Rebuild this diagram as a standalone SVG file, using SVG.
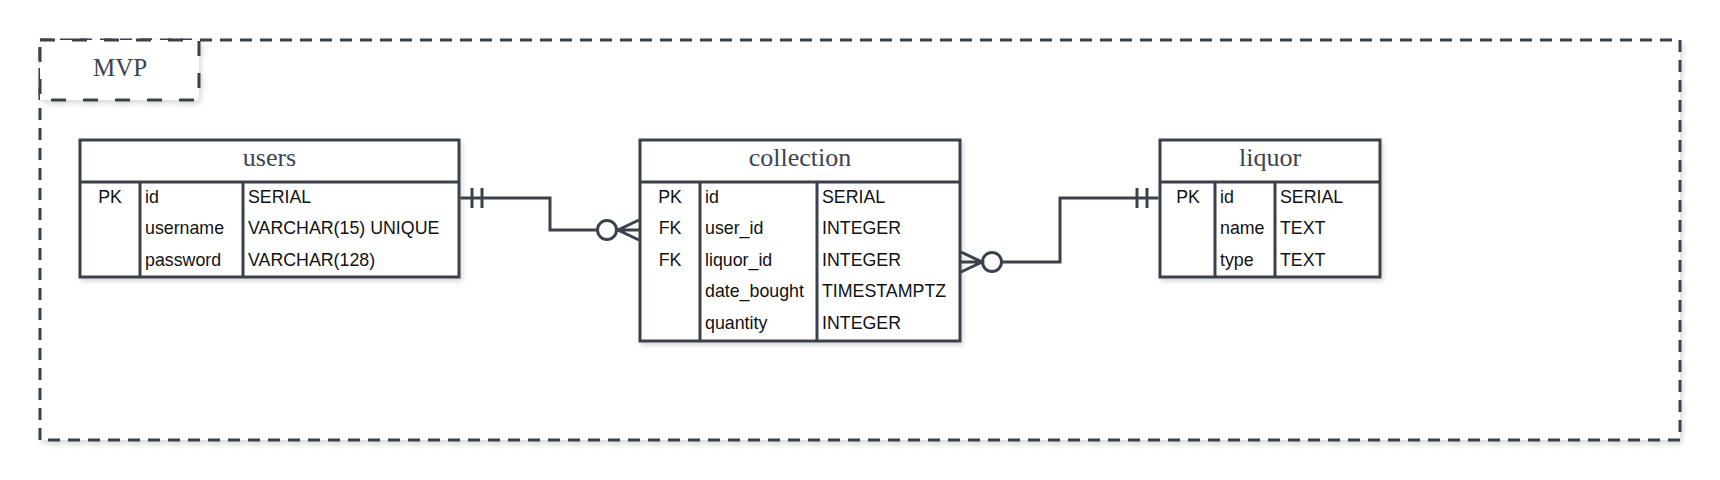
<svg xmlns="http://www.w3.org/2000/svg" width="1720" height="480" viewBox="0 0 1720 480">
<defs>
<filter id="sh" x="-5%" y="-5%" width="115%" height="120%">
<feDropShadow dx="2" dy="3" stdDeviation="2.5" flood-color="#000" flood-opacity="0.15"/>
</filter>
</defs>
<style>
.box{fill:#fff;stroke:#3a414a;stroke-width:3}
.ln{fill:none;stroke:#3a414a;stroke-width:3}
.hd{font-family:"Liberation Serif",serif;font-size:26px;fill:#3d4450;text-anchor:middle}
.tx{font-family:"Liberation Sans",Arial,sans-serif;font-size:17.8px;fill:#111}
.c{text-anchor:middle}
.cn{fill:none;stroke:#3a414a;stroke-width:3}
</style>
<rect width="1720" height="480" fill="#fff"/>
<g id="mvp-container">
<rect x="40" y="40" width="1640" height="400" fill="#fff" stroke="#3a414a" stroke-width="3" stroke-dasharray="12 8" filter="url(#sh)"/>
</g>
<g id="mvp-label">
<rect x="40" y="40" width="159" height="60" fill="#fff" stroke="#3a414a" stroke-width="3" stroke-dasharray="15 17" filter="url(#sh)"/>
<text x="120" y="76" class="hd" style="font-size:25px">MVP</text>
</g>
<g id="users">
<rect class="box" x="80" y="140" width="379" height="137" filter="url(#sh)"/>
<line class="ln" x1="80" y1="182" x2="459" y2="182"/>
<line class="ln" x1="140" y1="182" x2="140" y2="277"/>
<line class="ln" x1="243" y1="182" x2="243" y2="277"/>
<text class="hd" x="269.5" y="166">users</text>
<text class="tx c" x="110" y="202.5">PK</text>
<text class="tx" x="145" y="202.5">id</text>
<text class="tx" x="248" y="202.5">SERIAL</text>
<text class="tx" x="145" y="234">username</text>
<text class="tx" x="248" y="234">VARCHAR(15) UNIQUE</text>
<text class="tx" x="145" y="265.5">password</text>
<text class="tx" x="248" y="265.5">VARCHAR(128)</text>
</g>
<g id="collection">
<rect class="box" x="640" y="140" width="320" height="201" filter="url(#sh)"/>
<line class="ln" x1="640" y1="182" x2="960" y2="182"/>
<line class="ln" x1="700" y1="182" x2="700" y2="341"/>
<line class="ln" x1="817" y1="182" x2="817" y2="341"/>
<text class="hd" x="800" y="166">collection</text>
<text class="tx c" x="670" y="202.5">PK</text>
<text class="tx" x="705" y="202.5">id</text>
<text class="tx" x="822" y="202.5">SERIAL</text>
<text class="tx c" x="670" y="234">FK</text>
<text class="tx" x="705" y="234">user_id</text>
<text class="tx" x="822" y="234">INTEGER</text>
<text class="tx c" x="670" y="265.5">FK</text>
<text class="tx" x="705" y="265.5">liquor_id</text>
<text class="tx" x="822" y="265.5">INTEGER</text>
<text class="tx" x="705" y="297">date_bought</text>
<text class="tx" x="822" y="297">TIMESTAMPTZ</text>
<text class="tx" x="705" y="328.5">quantity</text>
<text class="tx" x="822" y="328.5">INTEGER</text>
</g>
<g id="liquor">
<rect class="box" x="1160" y="140" width="220" height="137" filter="url(#sh)"/>
<line class="ln" x1="1160" y1="182" x2="1380" y2="182"/>
<line class="ln" x1="1215" y1="182" x2="1215" y2="277"/>
<line class="ln" x1="1275" y1="182" x2="1275" y2="277"/>
<text class="hd" x="1270" y="166">liquor</text>
<text class="tx c" x="1188" y="202.5">PK</text>
<text class="tx" x="1220" y="202.5">id</text>
<text class="tx" x="1280" y="202.5">SERIAL</text>
<text class="tx" x="1220" y="234">name</text>
<text class="tx" x="1280" y="234">TEXT</text>
<text class="tx" x="1220" y="265.5">type</text>
<text class="tx" x="1280" y="265.5">TEXT</text>
</g>
<g id="connectors">
<path class="cn" d="M460.5 198 H550 V230 H597"/>
<line class="cn" x1="472" y1="188" x2="472" y2="208"/>
<line class="cn" x1="482" y1="188" x2="482" y2="208"/>
<circle class="cn" cx="607" cy="230" r="9.5"/>
<path class="cn" d="M639 220 L618 230 L639 240 M618 230 H639"/>
<path class="cn" d="M1002 262 H1060 V198 H1158.5"/>
<line class="cn" x1="1137" y1="188" x2="1137" y2="208"/>
<line class="cn" x1="1147" y1="188" x2="1147" y2="208"/>
<circle class="cn" cx="992" cy="262" r="9.5"/>
<path class="cn" d="M961 252 L982 262 L961 272 M982 262 H961"/>
</g>
</svg>
